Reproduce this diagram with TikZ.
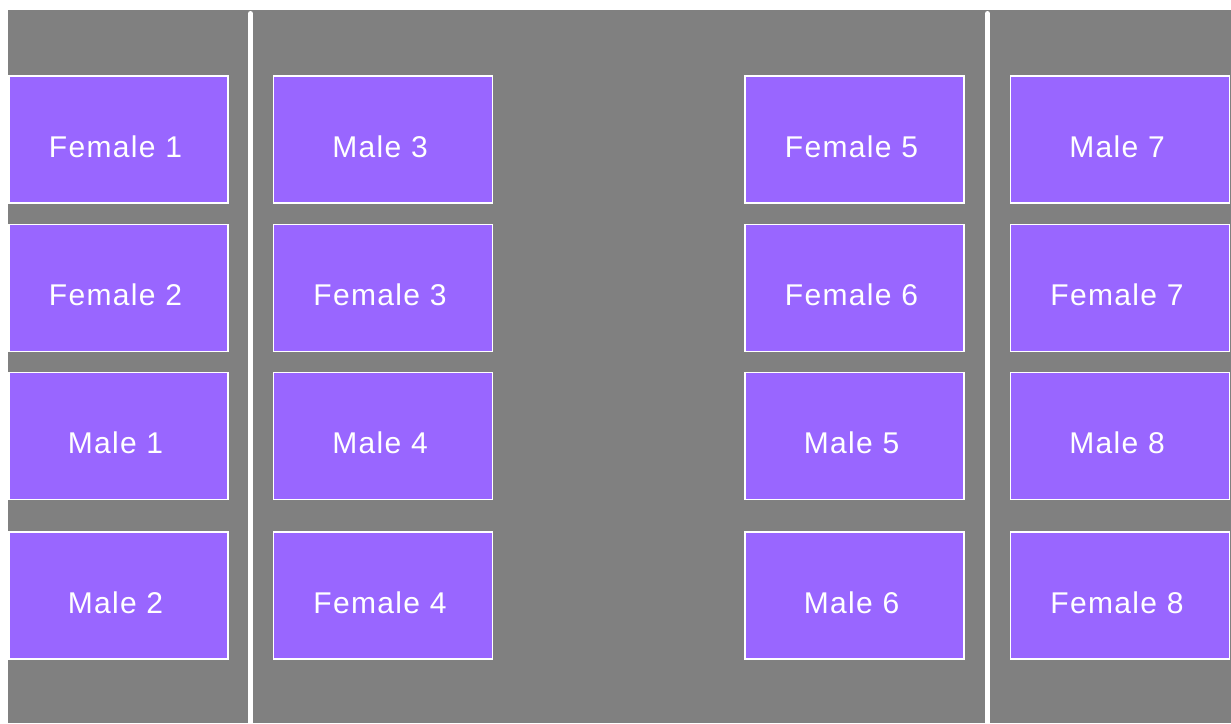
\documentclass[tikz,border=0pt]{standalone}
\usepackage{fontspec}
\setmainfont{Liberation Sans}[LetterSpace=4.5]
\definecolor{bg}{HTML}{808080}
\definecolor{box}{HTML}{9966FF}
\begin{document}
\begin{tikzpicture}[x=1pt,y=-1pt,
  seat/.style={draw=white, line width=1.2pt, fill=box, minimum width=219pt, minimum height=127pt, inner sep=0pt,
    label={[text=white, font=\fontsize{30}{36}\selectfont, xshift=-3pt, yshift=-7pt]center:#1}},
  divider/.style={white, line width=5pt, line cap=round}]
\useasboundingbox (0,0) rectangle (1231,723);
\fill[white] (0,0) rectangle (1231,723);
\fill[bg] (8,10) rectangle (1231,723);
\draw[divider] (250.5,13.5) -- (250.5,730);
\draw[divider] (987.5,13.5) -- (987.5,730);
\clip (0,0) rectangle (1231,723);
\node[seat=Female 1] (f1) at (118.5,139.5) {};
\node[seat=Female 2] (f2) at (118.5,288) {};
\node[seat=Male 1] (m1) at (118.5,436) {};
\node[seat=Male 2] (m2) at (118.5,595.5) {};
\node[seat=Male 3] (m3) at (383,139.5) {};
\node[seat=Female 3] (f3) at (383,288) {};
\node[seat=Male 4] (m4) at (383,436) {};
\node[seat=Female 4] (f4) at (383,595.5) {};
\node[seat=Female 5] (f5) at (854.5,139.5) {};
\node[seat=Female 6] (f6) at (854.5,288) {};
\node[seat=Male 5] (m5) at (854.5,436) {};
\node[seat=Male 6] (m6) at (854.5,595.5) {};
\node[seat=Male 7] (m7) at (1120,139.5) {};
\node[seat=Female 7] (f7) at (1120,288) {};
\node[seat=Male 8] (m8) at (1120,436) {};
\node[seat=Female 8] (f8) at (1120,595.5) {};
\end{tikzpicture}
\end{document}
